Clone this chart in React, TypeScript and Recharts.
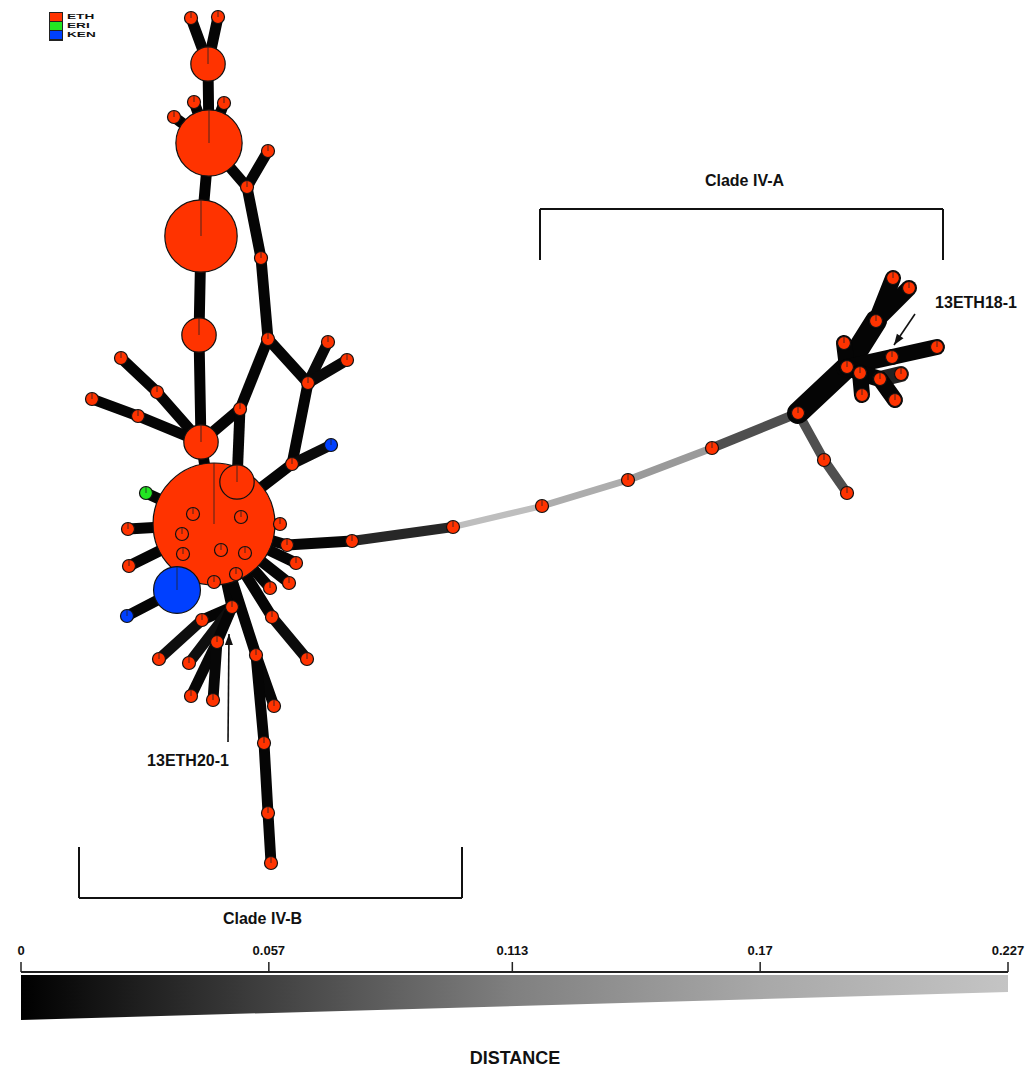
import React from 'react';
import { ScatterChart, Scatter, XAxis, YAxis, ReferenceLine, AreaChart, Area } from 'recharts';

// Minimum spanning network, clade IV isolates. Layout coordinates.
type Node = { id: string; x: number; y: number; n: number; c: string };
type Edge = [string, string, number]; // from, to, distance

const countries = ['ETH', 'ERI', 'KEN'];
const countryColors: Record<string, string> = { ETH: '#ff3300', ERI: '#22e622', KEN: '#0040ff' };

const stemNodes: Node[] = [
  { id: 't1', x: 191, y: 18, n: 1, c: 'ETH' },
  { id: 't2', x: 218, y: 17, n: 1, c: 'ETH' },
  { id: 't3', x: 208, y: 64, n: 7, c: 'ETH' },
  { id: 't4', x: 194, y: 102, n: 1, c: 'ETH' },
  { id: 't5', x: 224, y: 103, n: 1, c: 'ETH' },
  { id: 't6', x: 174, y: 117, n: 1, c: 'ETH' },
  { id: 't7', x: 209, y: 143, n: 26, c: 'ETH' },
  { id: 't8', x: 268, y: 151, n: 1, c: 'ETH' },
  { id: 't9', x: 247, y: 187, n: 1, c: 'ETH' },
  { id: 't10', x: 201, y: 236, n: 31, c: 'ETH' },
  { id: 't11', x: 261, y: 258, n: 1, c: 'ETH' },
  { id: 't12', x: 199, y: 335, n: 7, c: 'ETH' },
  { id: 't13', x: 268, y: 339, n: 1, c: 'ETH' },
  { id: 't14', x: 328, y: 342, n: 1, c: 'ETH' },
  { id: 't15', x: 347, y: 360, n: 1, c: 'ETH' },
  { id: 't16', x: 308, y: 383, n: 1, c: 'ETH' },
  { id: 't17', x: 240, y: 409, n: 1, c: 'ETH' },
  { id: 't18', x: 201, y: 442, n: 7, c: 'ETH' },
  { id: 't19', x: 121, y: 358, n: 1, c: 'ETH' },
  { id: 't20', x: 92, y: 399, n: 1, c: 'ETH' },
  { id: 't21', x: 157, y: 392, n: 1, c: 'ETH' },
  { id: 't22', x: 138, y: 416, n: 1, c: 'ETH' },
];

const hubNodes: Node[] = [
  { id: 'hub', x: 214, y: 524, n: 88, c: 'ETH' },
  { id: 'hin', x: 237, y: 482, n: 7, c: 'ETH' },
  { id: 'i1', x: 193, y: 514, n: 1, c: 'ETH' },
  { id: 'i2', x: 241, y: 517, n: 1, c: 'ETH' },
  { id: 'i3', x: 182, y: 534, n: 1, c: 'ETH' },
  { id: 'i4', x: 183, y: 554, n: 1, c: 'ETH' },
  { id: 'i5', x: 221, y: 550, n: 1, c: 'ETH' },
  { id: 'i6', x: 245, y: 553, n: 1, c: 'ETH' },
  { id: 'i7', x: 236, y: 574, n: 1, c: 'ETH' },
  { id: 'i8', x: 214, y: 582, n: 1, c: 'ETH' },
  { id: 'k1', x: 331, y: 445, n: 1, c: 'KEN' },
  { id: 'r0', x: 292, y: 464, n: 1, c: 'ETH' },
  { id: 'g1', x: 146, y: 493, n: 1, c: 'ERI' },
  { id: 'l1', x: 128, y: 529, n: 1, c: 'ETH' },
  { id: 'l2', x: 129, y: 566, n: 1, c: 'ETH' },
  { id: 'kb', x: 177, y: 590, n: 13, c: 'KEN' },
  { id: 'ks', x: 127, y: 616, n: 1, c: 'KEN' },
  { id: 'r1', x: 280, y: 524, n: 1, c: 'ETH' },
  { id: 'r2', x: 287, y: 545, n: 1, c: 'ETH' },
  { id: 'r3', x: 296, y: 563, n: 1, c: 'ETH' },
  { id: 'r4', x: 289, y: 583, n: 1, c: 'ETH' },
  { id: 'r5', x: 270, y: 588, n: 1, c: 'ETH' },
];

const fanNodes: Node[] = [
  { id: 'f1', x: 232, y: 607, n: 1, c: 'ETH' },
  { id: 'f2', x: 202, y: 620, n: 1, c: 'ETH' },
  { id: 'f3', x: 159, y: 659, n: 1, c: 'ETH' },
  { id: 'f4', x: 189, y: 663, n: 1, c: 'ETH' },
  { id: 'f5', x: 217, y: 642, n: 1, c: 'ETH' },
  { id: 'f6', x: 191, y: 696, n: 1, c: 'ETH' },
  { id: 'f7', x: 213, y: 700, n: 1, c: 'ETH' },
  { id: 'f8', x: 272, y: 617, n: 1, c: 'ETH' },
  { id: 'f9', x: 307, y: 659, n: 1, c: 'ETH' },
  { id: 'f10', x: 256, y: 655, n: 1, c: 'ETH' },
  { id: 'f11', x: 274, y: 706, n: 1, c: 'ETH' },
  { id: 'f12', x: 264, y: 743, n: 1, c: 'ETH' },
  { id: 'f13', x: 268, y: 813, n: 1, c: 'ETH' },
  { id: 'f14', x: 271, y: 863, n: 1, c: 'ETH' },
];

const bridgeNodes: Node[] = [
  { id: 'b1', x: 352, y: 541, n: 1, c: 'ETH' },
  { id: 'b2', x: 453, y: 527, n: 1, c: 'ETH' },
  { id: 'b3', x: 542, y: 506, n: 1, c: 'ETH' },
  { id: 'b4', x: 628, y: 480, n: 1, c: 'ETH' },
  { id: 'b5', x: 712, y: 448, n: 1, c: 'ETH' },
  { id: 'b6', x: 798, y: 413, n: 1, c: 'ETH' },
  { id: 'b7', x: 824, y: 460, n: 1, c: 'ETH' },
  { id: 'b8', x: 847, y: 493, n: 1, c: 'ETH' },
];

const cladeANodes: Node[] = [
  { id: 'a1', x: 893, y: 278, n: 1, c: 'ETH' },
  { id: 'a2', x: 909, y: 288, n: 1, c: 'ETH' },
  { id: 'a3', x: 876, y: 321, n: 1, c: 'ETH' },
  { id: 'a4', x: 844, y: 343, n: 1, c: 'ETH' },
  { id: 'a5', x: 937, y: 347, n: 1, c: 'ETH' },
  { id: 'a6', x: 892, y: 357, n: 1, c: 'ETH' },
  { id: 'a7', x: 847, y: 367, n: 1, c: 'ETH' },
  { id: 'a8', x: 860, y: 373, n: 1, c: 'ETH' },
  { id: 'a9', x: 901, y: 374, n: 1, c: 'ETH' },
  { id: 'a10', x: 880, y: 379, n: 1, c: 'ETH' },
  { id: 'a11', x: 862, y: 395, n: 1, c: 'ETH' },
  { id: 'a12', x: 895, y: 400, n: 1, c: 'ETH' },
];

const stemEdges: Edge[] = [
  ['t1', 't3', 0.004], ['t2', 't3', 0.004], ['t3', 't7', 0.003], ['t4', 't7', 0.003],
  ['t5', 't7', 0.003], ['t6', 't7', 0.003], ['t7', 't10', 0.003], ['t7', 't9', 0.004],
  ['t9', 't8', 0.004], ['t9', 't11', 0.004], ['t11', 't13', 0.004], ['t10', 't12', 0.003],
  ['t12', 't18', 0.003], ['t18', 'hub', 0.003], ['t19', 't21', 0.004], ['t21', 't18', 0.004],
  ['t20', 't22', 0.004], ['t22', 't18', 0.004], ['t13', 't17', 0.004], ['t17', 't18', 0.004],
  ['t17', 'hin', 0.004], ['t13', 't16', 0.004], ['t16', 't14', 0.008], ['t16', 't15', 0.008],
  ['t16', 'r0', 0.004], ['k1', 'r0', 0.01], ['r0', 'hub', 0.004],
];

const hubEdges: Edge[] = [
  ['hub', 'g1', 0.004], ['hub', 'l1', 0.004], ['hub', 'l2', 0.004], ['hub', 'kb', 0.003],
  ['kb', 'ks', 0.004], ['hub', 'r1', 0.004], ['hub', 'r2', 0.004], ['hub', 'r3', 0.004],
  ['hub', 'r4', 0.004], ['hub', 'r5', 0.004],
];

const fanEdges: Edge[] = [
  ['hub', 'f1', 0.004], ['f1', 'f2', 0.004], ['f2', 'f3', 0.012], ['f1', 'f4', 0.012],
  ['f1', 'f5', 0.004], ['f5', 'f6', 0.006], ['f5', 'f7', 0.006], ['hub', 'f8', 0.004],
  ['f8', 'f9', 0.01], ['hub', 'f10', 0.004], ['f10', 'f11', 0.006], ['f10', 'f12', 0.004],
  ['f12', 'f13', 0.004], ['f13', 'f14', 0.004],
];

const bridgeEdges: Edge[] = [
  ['r2', 'b1', 0.005], ['b1', 'b2', 0.035], ['b2', 'b3', 0.215], ['b3', 'b4', 0.18],
  ['b4', 'b5', 0.15], ['b5', 'b6', 0.07], ['b6', 'b7', 0.07], ['b7', 'b8', 0.07],
];

const cladeATrunk: Edge[] = [
  ['b6', 'a7', 0.004], ['a7', 'a3', 0.004],
];

const cladeAEdges: Edge[] = [
  ['a7', 'a4', 0.004], ['a3', 'a1', 0.004],
  ['a3', 'a2', 0.004], ['a7', 'a6', 0.004], ['a6', 'a5', 0.004], ['a7', 'a8', 0.004],
  ['a8', 'a10', 0.004], ['a10', 'a9', 0.03], ['a8', 'a11', 0.004], ['a10', 'a12', 0.004],
];

const brackets = [
  { label: 'Clade IV-A', x1: 540, x2: 943, y: 209, tip: 260, labelY: 180 },
  { label: 'Clade IV-B', x1: 79, x2: 462, y: 898, tip: 847, labelY: 918 },
];

const callouts = [
  { label: '13ETH20-1', lx: 188, ly: 760, fx: 228, fy: 742, tx: 229, ty: 634 },
  { label: '13ETH18-1', lx: 976, ly: 302, fx: 915, fy: 314, tx: 894, ty: 345 },
];

const distanceTicks = [0, 0.057, 0.113, 0.17, 0.227];
const distanceMax = 0.227;
const wedge = [
  { d: 0, band: [0, 45] },
  { d: 0.227, band: [28, 45] },
];

const allNodes = [...stemNodes, ...hubNodes, ...fanNodes, ...bridgeNodes, ...cladeANodes];
const nodeById: Record<string, Node> = {};
allNodes.forEach((n) => (nodeById[n.id] = n));
const drawOrder = [...allNodes].sort((a, b) => b.n - a.n);

const grayStops = [0, 64, 128, 168, 196];
function distColor(d: number) {
  const t = Math.min(1, d / distanceMax) * 4;
  const i = Math.min(3, Math.floor(t));
  const v = Math.round(grayStops[i] + (grayStops[i + 1] - grayStops[i]) * (t - i));
  const h = v.toString(16).padStart(2, '0');
  return `#${h}${h}${h}`;
}

const radius = (n: number) => 6.5 * Math.sqrt(n);
const FONT = '"Liberation Sans", Arial, sans-serif';

const NodeShape = (props: any) => {
  const { cx, cy, payload } = props;
  const r = radius(payload.n);
  return (
    <g>
      <circle cx={cx} cy={cy} r={r} fill={countryColors[payload.c]} stroke="#111" strokeWidth={1.2} />
      <line x1={cx} y1={cy} x2={cx} y2={cy - r} stroke="#222" strokeWidth={0.8} />
    </g>
  );
};

const TextShape = (props: any) => {
  const { cx, cy, payload } = props;
  return (
    <text x={cx} y={cy} textAnchor="middle" dominantBaseline="central" fontFamily={FONT} fontWeight="bold" fontSize={16} fill="#111">
      {payload.label}
    </text>
  );
};

const ArrowHead = (props: any) => {
  const { cx, cy, payload } = props;
  const a = Math.atan2(payload.ty - payload.fy, payload.tx - payload.fx);
  const L = 11, Wd = 4;
  const bx = cx - L * Math.cos(a), by = cy - L * Math.sin(a);
  const px = -Math.sin(a) * Wd, py = Math.cos(a) * Wd;
  return <polygon points={`${cx},${cy} ${bx + px},${by + py} ${bx - px},${by - py}`} fill="#111" />;
};

const Empty = () => <g />;

const CountryLegend = () => (
  <div style={{ position: 'absolute', left: 49, top: 12, display: 'flex', alignItems: 'flex-start', fontFamily: FONT }}>
    <div style={{ border: '1px solid #222', lineHeight: 0 }}>
      {countries.map((c) => (
        <div key={c} style={{ width: 12, height: 8, background: countryColors[c], borderBottom: '1px solid #222' }} />
      ))}
    </div>
    <div style={{ marginLeft: 4, marginTop: 0 }}>
      {countries.map((c) => (
        <div
          key={c}
          style={{
            fontSize: 8, lineHeight: '9px', height: 9, fontWeight: 'bold', color: '#111',
            transform: 'scaleX(1.7)', transformOrigin: 'left center', whiteSpace: 'nowrap',
          }}
        >
          {c}
        </div>
      ))}
    </div>
  </div>
);

function edgeSeries(edges: Edge[], group: string, width?: number) {
  return edges.map(([a, b, d]) => (
    <Scatter
      key={`${group}-${a}-${b}`}
      data={[nodeById[a], nodeById[b]]}
      line={{ stroke: distColor(d), strokeWidth: width ?? 11 - 22 * d, strokeLinecap: 'round' } as any}
      shape={Empty}
      isAnimationActive={false}
    />
  ));
}

export default function App() {
  return (
    <div style={{ position: 'absolute', left: 0, top: 0, width: 1034, height: 1070, background: '#fff' }}>
      <div style={{ position: 'absolute', left: 0, top: 0 }}>
        <ScatterChart width={1034} height={930} margin={{ top: 0, right: 0, bottom: 0, left: 0 }}>
          <XAxis dataKey="x" type="number" domain={[0, 1034]} allowDataOverflow hide />
          <YAxis dataKey="y" type="number" domain={[0, 930]} allowDataOverflow reversed hide />
          {edgeSeries(stemEdges, 'stem')}
          {edgeSeries(hubEdges, 'hub')}
          {edgeSeries(fanEdges, 'fan')}
          {edgeSeries(bridgeEdges, 'bridge')}
          {edgeSeries(cladeATrunk, 'trunk', 22)}
          {edgeSeries(cladeAEdges, 'cladeA', 16)}
          <Scatter data={drawOrder} shape={NodeShape} isAnimationActive={false} />
          {brackets.map((b) => (
            <ReferenceLine key={`h-${b.label}`} segment={[{ x: b.x1, y: b.y }, { x: b.x2, y: b.y }]} stroke="#111" strokeWidth={2} />
          ))}
          {brackets.map((b) => (
            <ReferenceLine key={`l-${b.label}`} segment={[{ x: b.x1, y: b.y }, { x: b.x1, y: b.tip }]} stroke="#111" strokeWidth={2} />
          ))}
          {brackets.map((b) => (
            <ReferenceLine key={`r-${b.label}`} segment={[{ x: b.x2, y: b.y }, { x: b.x2, y: b.tip }]} stroke="#111" strokeWidth={2} />
          ))}
          {callouts.map((c) => (
            <Scatter
              key={`arrow-${c.label}`}
              data={[{ x: c.fx, y: c.fy }, { x: c.tx, y: c.ty }]}
              line={{ stroke: '#111', strokeWidth: 1.6 }}
              shape={Empty}
              isAnimationActive={false}
            />
          ))}
          <Scatter data={callouts.map((c) => ({ ...c, x: c.tx, y: c.ty }))} shape={ArrowHead} isAnimationActive={false} />
          <Scatter
            data={[
              ...brackets.map((b) => ({ x: (b.x1 + b.x2) / 2 + (b.label === 'Clade IV-A' ? 3 : -8), y: b.labelY, label: b.label })),
              ...callouts.map((c) => ({ x: c.lx, y: c.ly, label: c.label })),
            ]}
            shape={TextShape}
            isAnimationActive={false}
          />
        </ScatterChart>
      </div>
      <CountryLegend />
      <div style={{ position: 'absolute', left: 0, top: 930 }}>
        <AreaChart width={1034} height={90} data={wedge} margin={{ top: 0, right: 26, left: 21, bottom: 0 }}>
          <defs>
            <linearGradient id="distGrad" x1="0" y1="0" x2="1" y2="0">
              <stop offset="0" stopColor="#000000" />
              <stop offset="0.25" stopColor="#404040" />
              <stop offset="0.5" stopColor="#808080" />
              <stop offset="0.75" stopColor="#a8a8a8" />
              <stop offset="1" stopColor="#c4c4c4" />
            </linearGradient>
          </defs>
          <XAxis
            dataKey="d"
            type="number"
            domain={[0, distanceMax]}
            ticks={distanceTicks}
            orientation="top"
            height={42}
            axisLine={{ stroke: '#222', strokeWidth: 2 }}
            tickLine={{ stroke: '#222', strokeWidth: 1.5 }}
            tickSize={10}
            tickMargin={7}
            interval={0}
            tick={{ fontSize: 13, fill: '#111', fontWeight: 'bold', fontFamily: FONT }}
            tickFormatter={(v: number) => String(v)}
          />
          <YAxis hide domain={[0, 48]} allowDataOverflow />
          <Area dataKey="band" type="linear" stroke="none" fill="url(#distGrad)" fillOpacity={1} isAnimationActive={false} />
        </AreaChart>
      </div>
      <div
        style={{
          position: 'absolute', left: 0, top: 1048, width: 1030, textAlign: 'center',
          fontFamily: FONT, fontWeight: 'bold', fontSize: 18, color: '#111',
        }}
      >
        DISTANCE
      </div>
    </div>
  );
}
